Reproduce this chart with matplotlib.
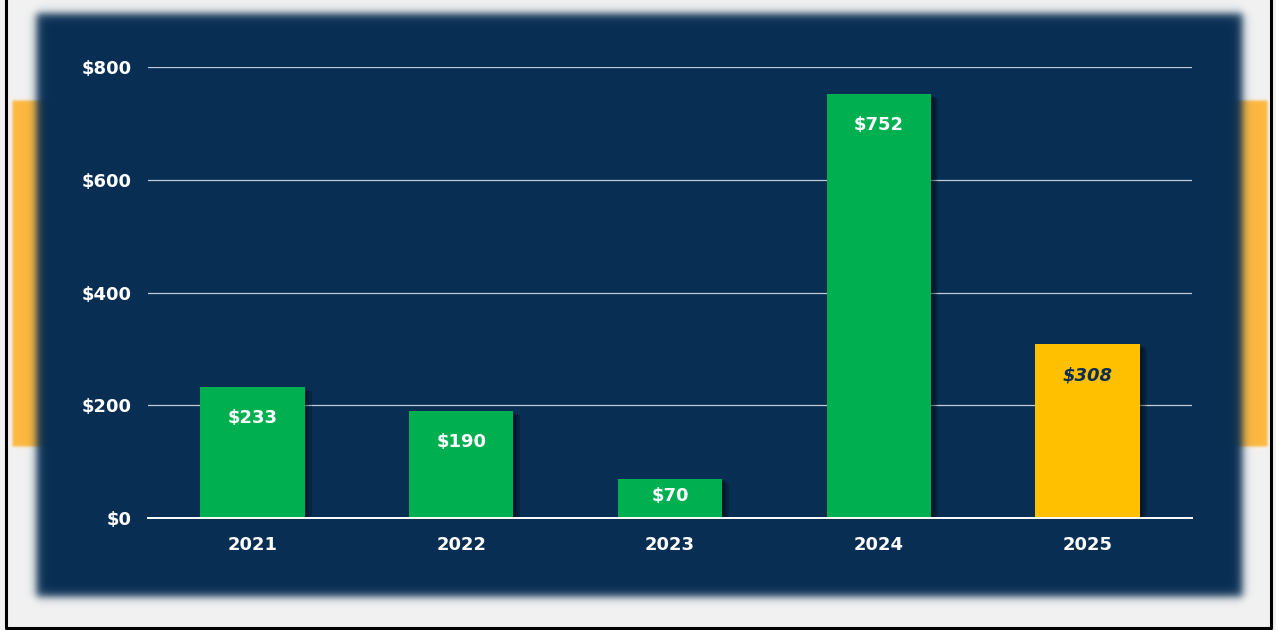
import numpy as np
import matplotlib
matplotlib.use("Agg")
import matplotlib.pyplot as plt
import matplotlib.patheffects as pe

years = ["2021", "2022", "2023", "2024", "2025"]
values = [233, 190, 70, 752, 308]
labels = ["$233", "$190", "$70", "$752", "$308"]
yticks = [0, 200, 400, 600, 800]
ytick_labels = ["$0", "$200", "$400", "$600", "$800"]

W, H = 1276, 630
fig = plt.figure(figsize=(W / 100, H / 100), dpi=100)

# ---- decorative background (gray page, orange tabs, blurred navy panel) ----
yy, xx = np.mgrid[0:H, 0:W].astype(float)

def soft_box(x0, x1, y0, y1, s):
    fx = 0.5 * (np.tanh((xx - x0) / s) - np.tanh((xx - x1) / s))
    fy = 0.5 * (np.tanh((yy - y0) / s) - np.tanh((yy - y1) / s))
    return (fx * fy)[..., None]

img = np.ones((H, W, 3)) * np.array([0xF2, 0xF2, 0xF2]) / 255
orange = np.array([0xFD, 0xB8, 0x40]) / 255
navy = np.array([0x08, 0x2E, 0x53]) / 255
for (x0, x1) in [(12, 60), (1215, 1267)]:
    a = soft_box(x0, x1, 100, 446, 1.5)
    img = img * (1 - a) + orange * a
a = soft_box(36, 1242, 13, 596, 5.0)
img = img * (1 - a) + navy * a
bg = fig.add_axes([0, 0, 1, 1])
bg.imshow(img, aspect="auto", interpolation="bilinear")
bg.set_axis_off()
# outer black frame (left, bottom, right)
frame = fig.add_axes([0, 0, 1, 1], facecolor="none")
frame.set_xlim(0, W)
frame.set_ylim(H, 0)
frame.plot([6, 6, 1271, 1271], [-5, 628, 628, -5], color="black", lw=2.2, clip_on=True)
frame.set_axis_off()

# ---- chart ----
ax_h_px = 518 - 67
ax = fig.add_axes([148 / W, 1 - 518 / H, (1192 - 148) / W, ax_h_px / H], facecolor="none")
ax.set_xlim(-0.5, len(years) - 0.5)
ax.set_ylim(0, 800)
x = np.arange(len(years))
colors = ["#00AF50"] * 4 + ["#FFC000"]
shadow = [pe.SimplePatchShadow(offset=(o, -o * 0.6), shadow_rgbFace="black", alpha=0.18) for o in (5, 3.5, 2)]
bars = ax.bar(x, values, width=0.5, color=colors, zorder=3,
              path_effects=shadow + [pe.Normal()])

for yv in yticks[1:]:
    ax.axhline(yv, color="#C2CCD6", lw=0.9, zorder=1)
ax.axhline(0, color="white", lw=1.4, zorder=4, clip_on=False)

font = "DejaVu Sans"
for i, (v, lab) in enumerate(zip(values, labels)):
    last = i == len(values) - 1
    bar_px = v / 800 * ax_h_px
    off_px = min(31, bar_px * 0.45)
    ax.annotate(lab, (i, v), xytext=(0, -off_px * 0.72), textcoords="offset points",
                ha="center", va="center", fontsize=13, fontweight="bold",
                family=font, color="#0B2D52" if last else "white",
                style="italic" if last else "normal", zorder=5)

ax.set_yticks(yticks)
ax.set_yticklabels(ytick_labels)
ax.set_xticks(x)
ax.set_xticklabels(years)
ax.tick_params(axis="y", length=0, pad=12, colors="white", labelsize=13)
ax.tick_params(axis="x", length=0, pad=13, colors="white", labelsize=13)
for t in ax.get_xticklabels() + ax.get_yticklabels():
    t.set_fontweight("bold")
    t.set_family(font)
for s in ax.spines.values():
    s.set_visible(False)

fig.savefig("out.png", dpi=100)
